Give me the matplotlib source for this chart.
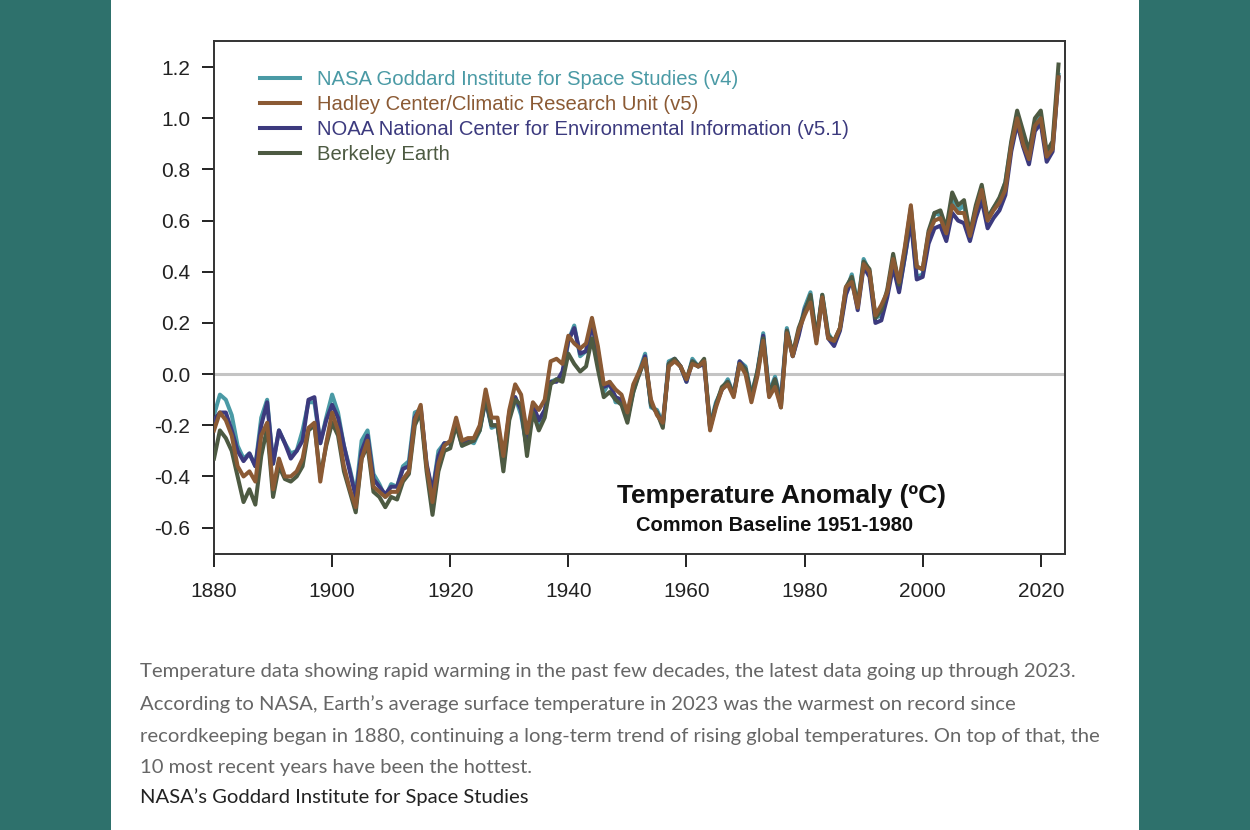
import numpy as np
import matplotlib.pyplot as plt
from matplotlib.patches import Rectangle

# annual anomalies in hundredths of a degree C, common baseline 1951-1980
years = list(range(1880, 2024))

nasa = [
    -16, -8, -10, -16, -28, -33, -31, -36, -17, -10,
    -35, -22, -27, -31, -30, -22, -11, -11, -27, -17,
    -8, -15, -28, -37, -47, -26, -22, -39, -43, -48,
    -43, -44, -36, -34, -15, -14, -36, -46, -30, -27,
    -27, -19, -28, -26, -27, -22, -10, -21, -20, -36,
    -16, -9, -16, -29, -12, -20, -15, -3, -2, -2,
    13, 19, 7, 9, 20, 9, -7, -3, -11, -11,
    -17, -7, 1, 8, -13, -14, -19, 5, 6, 3,
    -3, 6, 3, 5, -20, -11, -6, -2, -8, 5,
    3, -8, 1, 16, -7, -1, -10, 18, 7, 16,
    26, 32, 14, 31, 16, 12, 18, 32, 39, 27,
    45, 40, 22, 23, 32, 45, 33, 46, 61, 38,
    39, 54, 63, 62, 53, 68, 64, 66, 54, 65,
    72, 61, 65, 68, 75, 90, 101, 92, 85, 98,
    101, 85, 89, 117,
]

hadley = [
    -22, -15, -18, -24, -36, -40, -38, -42, -24, -19,
    -45, -33, -40, -40, -38, -33, -21, -19, -42, -27,
    -15, -22, -36, -45, -52, -33, -26, -44, -46, -48,
    -46, -46, -41, -38, -18, -12, -36, -50, -35, -28,
    -26, -17, -26, -25, -25, -20, -6, -17, -17, -32,
    -14, -4, -8, -23, -11, -14, -10, 5, 6, 4,
    15, 12, 10, 12, 22, 11, -4, -3, -6, -8,
    -15, -4, 1, 6, -10, -16, -19, 3, 5, 3,
    -2, 4, 3, 5, -22, -13, -6, -4, -9, 4,
    0, -11, -1, 13, -9, -5, -13, 16, 7, 17,
    23, 28, 12, 30, 14, 13, 18, 34, 36, 26,
    43, 40, 23, 27, 32, 45, 36, 50, 66, 42,
    41, 55, 60, 61, 55, 66, 63, 63, 54, 64,
    72, 60, 64, 67, 72, 89, 100, 90, 84, 97,
    100, 85, 88, 116,
]

noaa = [
    -18, -15, -15, -22, -30, -34, -31, -36, -20, -11,
    -35, -22, -27, -33, -30, -26, -10, -9, -27, -18,
    -12, -17, -28, -38, -48, -30, -24, -41, -44, -47,
    -44, -44, -37, -36, -17, -13, -35, -46, -32, -27,
    -27, -19, -27, -26, -26, -21, -10, -20, -20, -34,
    -15, -9, -14, -29, -12, -18, -14, -3, -3, 1,
    13, 18, 8, 9, 19, 9, -5, -4, -9, -10,
    -18, -5, 0, 7, -12, -15, -20, 4, 6, 3,
    -3, 5, 3, 4, -21, -12, -6, -3, -8, 5,
    2, -9, 0, 15, -8, -2, -11, 17, 7, 15,
    25, 30, 13, 30, 14, 11, 17, 31, 37, 25,
    42, 38, 20, 21, 30, 42, 32, 46, 60, 37,
    38, 51, 57, 58, 52, 63, 60, 59, 52, 61,
    68, 57, 61, 64, 70, 87, 98, 89, 82, 95,
    98, 83, 87, 116,
]

berkeley = [
    -33, -22, -25, -30, -40, -50, -45, -51, -32, -21,
    -48, -36, -41, -42, -40, -36, -22, -20, -40, -28,
    -19, -24, -38, -46, -54, -33, -28, -46, -48, -52,
    -48, -49, -42, -39, -20, -15, -38, -55, -38, -30,
    -29, -20, -28, -27, -26, -22, -9, -20, -20, -38,
    -18, -10, -12, -32, -15, -22, -17, -4, -2, -3,
    8, 4, 1, 3, 14, 2, -9, -7, -10, -12,
    -19, -7, 0, 6, -12, -15, -21, 4, 6, 3,
    -2, 5, 3, 6, -21, -12, -5, -3, -8, 4,
    2, -9, 1, 14, -8, -2, -13, 17, 8, 18,
    24, 31, 14, 31, 15, 13, 18, 34, 38, 27,
    44, 41, 22, 25, 33, 47, 35, 49, 65, 42,
    41, 56, 63, 64, 57, 71, 66, 68, 55, 66,
    74, 61, 65, 69, 75, 91, 103, 95, 87, 100,
    103, 87, 91, 121,
]

labels = [
    "NASA Goddard Institute for Space Studies (v4)",
    "Hadley Center/Climatic Research Unit (v5)",
    "NOAA National Center for Environmental Information (v5.1)",
    "Berkeley Earth",
]
colors = ["#4a9aa5", "#8b5a34", "#3c3a7e", "#4d5a42"]

caption = ("Temperature data showing rapid warming in the past few decades, the latest data going up through 2023.\n"
           "According to NASA, Earth\u2019s average surface temperature in 2023 was the warmest on record since\n"
           "recordkeeping began in 1880, continuing a long-term trend of rising global temperatures. On top of that, the\n"
           "10 most recent years have been the hottest.")
credit = "NASA\u2019s Goddard Institute for Space Studies"

plt.rcParams['font.family'] = ['Liberation Sans', 'DejaVu Sans']

fig = plt.figure(figsize=(12.5, 8.3), dpi=100)
fig.patch.set_facecolor("#2e716c")
fig.patches.append(Rectangle((111 / 1250, 0), (1139 - 111) / 1250, 1,
                             transform=fig.transFigure, facecolor="white",
                             edgecolor="none", zorder=-5))

ax = fig.add_axes([214 / 1250, 1 - 554 / 830, (1065 - 214) / 1250, (554 - 41) / 830])
ax.set_zorder(2)
ax.set_facecolor("white")

yrs = np.array(years)
ax.axhline(0, color="#c4c4c4", lw=2.2, zorder=1)

series = [nasa, hadley, noaa, berkeley]
draw_order = [0, 2, 3, 1]
lines = {}
for i in draw_order:
    ln, = ax.plot(yrs, np.array(series[i]) / 100, color=colors[i], lw=2.9,
                  label=labels[i], zorder=2 + draw_order.index(i),
                  solid_joinstyle="round")
    lines[i] = ln

leg = ax.legend([lines[i] for i in range(4)], labels, loc="upper left",
                bbox_to_anchor=(0.045, 0.959), frameon=False, fontsize=14.6,
                handlelength=1.97, handletextpad=0.84, labelspacing=0.3,
                borderaxespad=0)
for txt, c in zip(leg.get_texts(), colors):
    txt.set_color(c)

ax.set_xlim(1880, 2024.1)
ax.set_ylim(-0.703, 1.302)
ax.set_xticks(range(1880, 2021, 20))
ax.set_yticks(np.arange(-0.6, 1.21, 0.2))
ax.set_yticklabels([f"{v:.1f}" for v in np.arange(-0.6, 1.21, 0.2)])
ax.tick_params(axis="both", length=9, width=1.4, color="#222222",
               labelsize=15, labelcolor="#222222")
ax.tick_params(axis="x", pad=11)
ax.tick_params(axis="y", pad=8)
for sp in ax.spines.values():
    sp.set_color("#333333")
    sp.set_linewidth(1.4)

ax.text(0.667, 0.113, "Temperature Anomaly (\u00baC)", transform=ax.transAxes,
        ha="center", va="center", fontsize=19, fontweight="bold", color="#111111")
ax.text(0.659, 0.055, "Common Baseline 1951-1980", transform=ax.transAxes,
        ha="center", va="center", fontsize=14.5, fontweight="bold", color="#111111")

fig.text(140 / 1250, 1 - 663 / 830, caption, ha="left", va="top",
         fontsize=14.6, color="#666666", family="Lato", linespacing=2.03)
fig.text(140 / 1250, 1 - 797 / 830, credit, ha="left", va="center",
         fontsize=14.6, color="#222222", family="Lato")

fig.savefig("out.png", dpi=100, facecolor=fig.get_facecolor())
